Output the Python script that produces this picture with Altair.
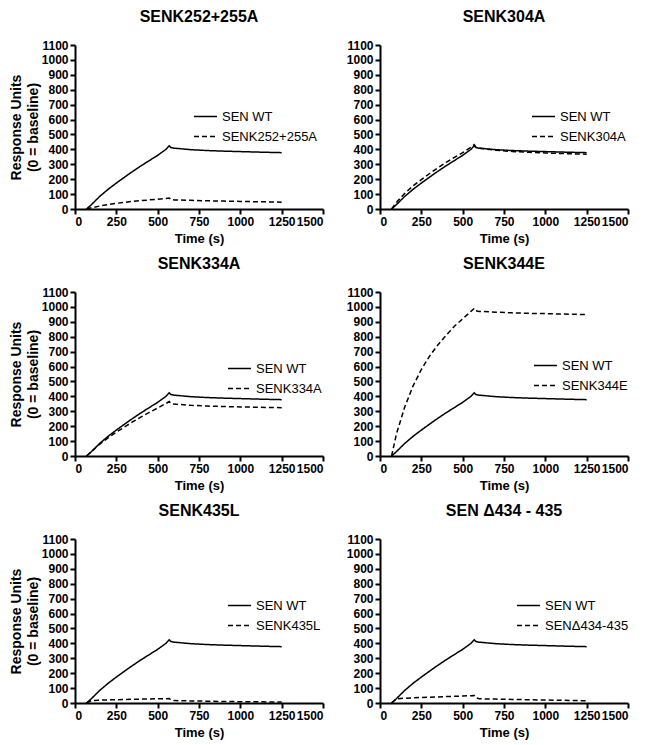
import altair as alt
import pandas as pd

FONT = "Liberation Sans, Arial, sans-serif"

time_s = [70, 100, 150, 200, 250, 300, 350, 400, 450, 500, 550, 570, 580, 600,
          700, 800, 900, 1000, 1100, 1200, 1250]

wt = [0, 30, 85, 132, 174, 214, 253, 290, 325, 360, 400, 424, 412, 408,
      398, 392, 388, 385, 382, 379, 378]

k252_255a = [0, 8, 20, 30, 38, 45, 51, 56, 61, 66, 71, 74, 63, 61,
             58, 55, 53, 51, 49, 47, 46]
k304a = [0, 45, 105, 155, 197, 238, 276, 312, 346, 378, 414, 432, 415, 408,
         394, 386, 380, 376, 372, 369, 368]
k334a = [0, 30, 80, 122, 160, 195, 230, 262, 293, 322, 352, 365, 352, 348,
         340, 335, 332, 329, 327, 325, 324]
k344e = [0, 150, 330, 470, 580, 670, 745, 810, 870, 920, 970, 990, 975, 970,
         965, 960, 957, 955, 952, 950, 948]
k435l = [0, 16, 19, 21, 22, 23, 25, 26, 27, 28, 29, 30, 20, 16,
         14, 12, 10, 9, 8, 7, 6]
d434_435 = [0, 28, 32, 35, 37, 39, 41, 43, 45, 47, 49, 50, 35, 28,
            26, 24, 22, 20, 18, 16, 15]

wt_label = "SEN WT"
panel_titles = ["SENK252+255A", "SENK304A", "SENK334A", "SENK344E", "SENK435L", "SEN \u0394434 - 435"]
mutant_labels = ["SENK252+255A", "SENK304A", "SENK334A", "SENK344E", "SENK435L", "SEN\u0394434-435"]
mutant_values = [k252_255a, k304a, k334a, k344e, k435l, d434_435]

x_ticks = [0, 250, 500, 750, 1000, 1250, 1500]
y_ticks = [0, 100, 200, 300, 400, 500, 600, 700, 800, 900, 1000, 1100]

# legend placement inside each panel (layout only)
legend_pos = [(118, 59), (151, 59), (152, 64), (153, 61), (152, 54), (136, 54)]

W, H = 248, 164


def panel(i):
    df = pd.DataFrame({
        "time": time_s + time_s,
        "value": wt + mutant_values[i],
        "series": [wt_label] * len(time_s) + [mutant_labels[i]] * len(time_s),
    })
    left = i % 2 == 0
    yaxis = alt.Axis(values=y_ticks, format="d",
                     title=["Response Units", "(0 = baseline)"] if left else None,
                     titleFontSize=14, titleLineHeight=17, titlePadding=1)
    lx, ly = legend_pos[i]
    return alt.Chart(df).mark_line(color="black", strokeWidth=1.5).encode(
        x=alt.X("time:Q", scale=alt.Scale(domain=[0, 1500], nice=False),
                axis=alt.Axis(values=x_ticks, format="d", title="Time (s)",
                              titleFontSize=13, titlePadding=5)),
        y=alt.Y("value:Q", scale=alt.Scale(domain=[0, 1100], nice=False), axis=yaxis),
        strokeDash=alt.StrokeDash(
            "series:N",
            scale=alt.Scale(domain=[wt_label, mutant_labels[i]], range=[[1, 0], [5, 3]]),
            legend=alt.Legend(orient="none", legendX=lx, legendY=ly, title=None,
                              symbolType="stroke", symbolSize=529,
                              symbolStrokeWidth=1.5, symbolStrokeColor="black",
                              labelFont=FONT, labelFontSize=13, labelColor="black",
                              labelOffset=4, rowPadding=-4, padding=0),
        ),
        order=alt.Order("time:Q"),
    ).properties(
        width=W, height=H,
        title=alt.TitleParams(panel_titles[i], fontSize=16, fontWeight="bold",
                              font=FONT, color="black", offset=14, anchor="middle"),
    )


rows = []
for r in range(3):
    rows.append(
        alt.hconcat(panel(2 * r), panel(2 * r + 1), spacing=20)
        .resolve_scale(strokeDash="independent")
        .resolve_legend(strokeDash="independent")
    )

chart = alt.vconcat(*rows, spacing=9).resolve_scale(
    strokeDash="independent"
).resolve_legend(strokeDash="independent").properties(padding=0).configure_view(
    stroke="transparent"
).configure_axis(
    grid=False, domainColor="black", domainWidth=2, tickColor="black",
    tickWidth=2, tickSize=5, labelFont=FONT, labelFontSize=12,
    labelFontWeight="bold", labelColor="black", labelPadding=2,
    titleFont=FONT, titleFontWeight="bold", titleColor="black",
)

chart.save("out.html", embed_options={"renderer": "svg", "actions": False})
